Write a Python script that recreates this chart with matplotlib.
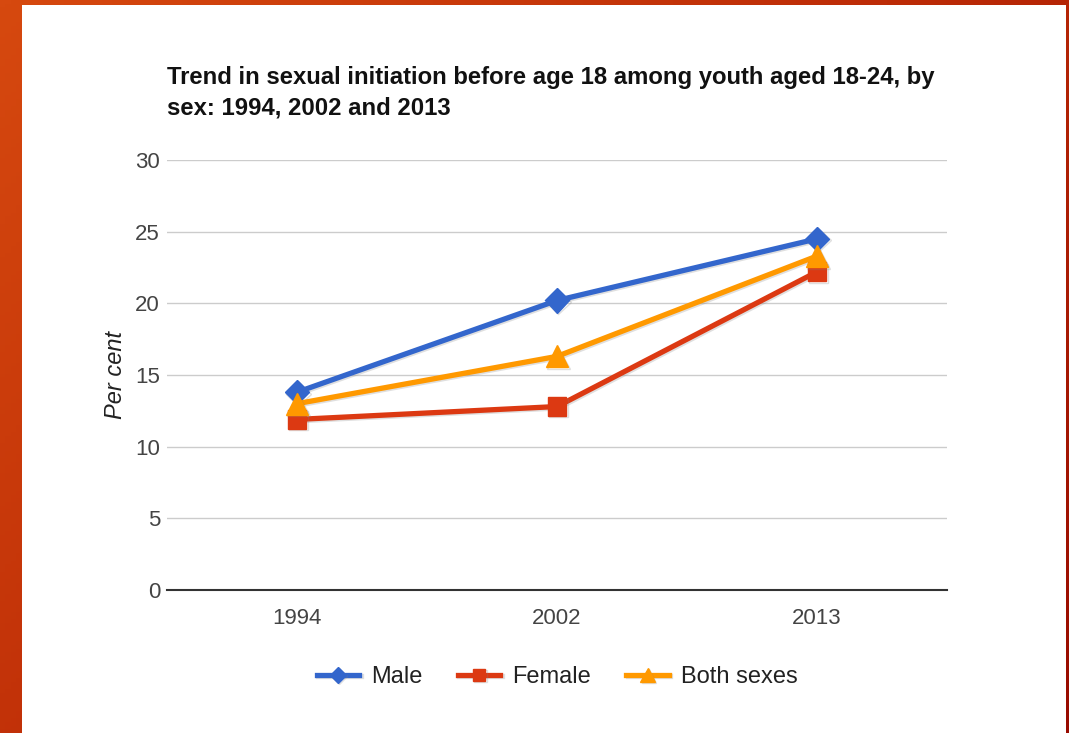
import numpy as np
import matplotlib.pyplot as plt
from matplotlib.colors import LinearSegmentedColormap
from matplotlib.patches import Rectangle
import matplotlib.patheffects as pe

# Data
years = ['1994', '2002', '2013']
male = [13.8, 20.2, 24.5]
female = [11.9, 12.8, 22.2]
both = [13.0, 16.3, 23.3]

title = ('Trend in sexual initiation before age 18 among youth aged 18-24, by\n'
         'sex: 1994, 2002 and 2013')

W, H = 1069, 733
fig = plt.figure(figsize=(W / 100, H / 100), dpi=100)
plt.rcParams['font.family'] = ['Liberation Sans', 'DejaVu Sans']

# Orange-red frame behind the white panel
bg = fig.add_axes([0, 0, 1, 1])
bg.set_axis_off()
gx, gy = np.meshgrid(np.linspace(0, 1, 200), np.linspace(0, 1, 200))
cmap = LinearSegmentedColormap.from_list('frame', ['#d6490f', '#bd2c07', '#980b00'])
bg.imshow(0.6 * gx + 0.4 * gy, cmap=cmap, aspect='auto', extent=[0, 1, 1, 0])
bg.add_patch(Rectangle((22 / W, 0), (1066 - 22) / W, 1 - 5 / H,
                       transform=fig.transFigure, facecolor='white', edgecolor='none'))
bg.set_xlim(0, 1)
bg.set_ylim(1, 0)

# Plot area
ax = fig.add_axes([167 / W, (H - 590) / H, 780 / W, 430 / H])
ax.set_facecolor('none')
x = np.arange(len(years))

shadow = [pe.SimpleLineShadow(offset=(1, -1), shadow_color='gray', alpha=0.25), pe.Normal()]
ax.plot(x, male, color='#3366cc', lw=3.8, marker='D', ms=12.5, label='Male',
        path_effects=shadow, zorder=5)
ax.plot(x, female, color='#dc3912', lw=3.8, marker='s', ms=13.5, label='Female',
        path_effects=shadow, zorder=4)
ax.plot(x, both, color='#ff9900', lw=3.8, marker='^', ms=16, label='Both sexes',
        path_effects=shadow, zorder=6)

ax.set_xlim(-0.5, 2.5)
ax.set_ylim(0, 30)
ax.set_yticks(range(0, 31, 5))
ax.set_xticks(x)
ax.set_xticklabels(years)
ax.grid(axis='y', color='#cccccc', lw=1)
ax.set_axisbelow(True)
for s in ['top', 'right', 'left']:
    ax.spines[s].set_visible(False)
ax.spines['bottom'].set_color('#333333')
ax.spines['bottom'].set_linewidth(1.5)
ax.tick_params(length=0, labelsize=16, colors='#444444')
ax.tick_params(axis='y', pad=5)
ax.tick_params(axis='x', pad=13)

ax.set_ylabel('Per cent', fontsize=17, style='italic', color='#222222', labelpad=6)

fig.text(167 / W, 1 - 66 / H, title, fontsize=17.2, fontweight='bold',
         color='#111111', va='top', ha='left', linespacing=1.42)

ax.legend(loc='center', bbox_to_anchor=(0.5, -(677 - 590) / 430), ncol=3, frameon=False,
          fontsize=17, labelcolor='#222222', handlelength=1.8, handletextpad=0.5,
          columnspacing=1.5, markerscale=0.65)

fig.savefig('out.png', dpi=100)
